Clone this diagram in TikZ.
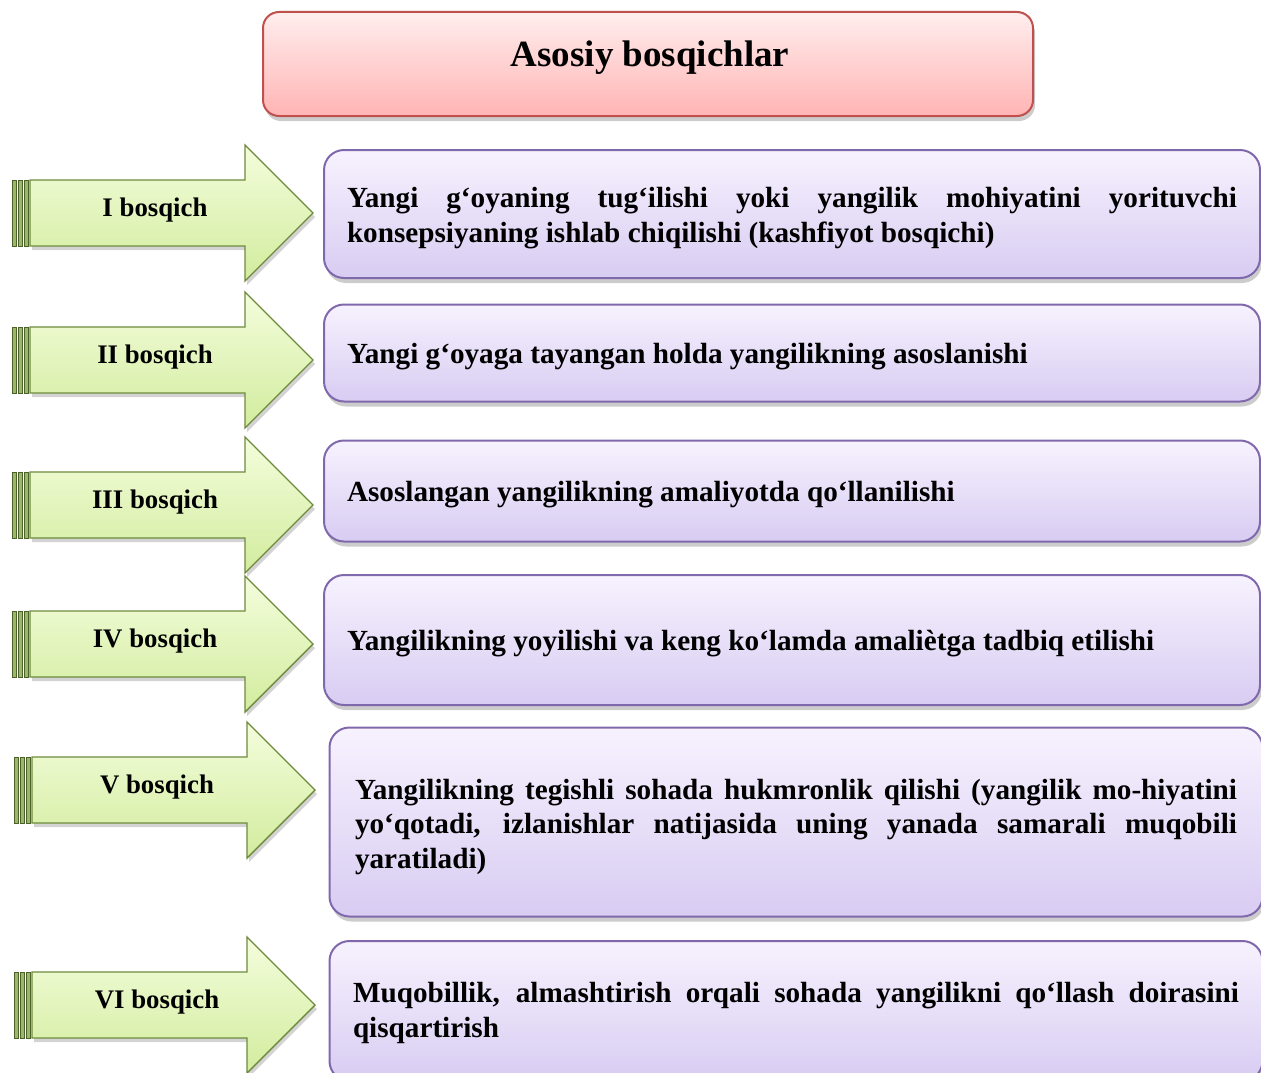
\documentclass[tikz,border=0pt]{standalone}
\usepackage{fontspec}
\setmainfont{Liberation Serif}
\usetikzlibrary{shadows}
\definecolor{boxtop}{HTML}{F7F2FE}
\definecolor{boxbot}{HTML}{D8CCF2}
\definecolor{boxborder}{HTML}{8068AC}
\definecolor{grtop}{HTML}{F4FDDC}
\definecolor{grbot}{HTML}{D2EC9E}
\definecolor{grborder}{HTML}{6E8B3D}
\definecolor{ttop}{HTML}{FFEEEE}
\definecolor{tbot}{HTML}{FFB4B4}
\definecolor{tborder}{HTML}{C0504D}
\tikzset{
  x=1pt, y=-1pt,
  stagebox/.style={rounded corners=20pt, draw=boxborder, line width=2pt,
    top color=boxtop, bottom color=boxbot,
    drop shadow={shadow xshift=2pt, shadow yshift=-5pt, opacity=0.4},
    minimum width=936pt, inner sep=0pt},
  boxtext/.style={text width=890pt, align=justify, inner sep=0pt,
    font=\fontsize{29.2}{34.5}\selectfont\bfseries},
  titlebox/.style={rounded corners=16pt, draw=tborder, line width=2pt,
    top color=ttop, bottom color=tbot,
    drop shadow={shadow xshift=2pt, shadow yshift=-5pt, opacity=0.4},
    minimum width=770pt, minimum height=104pt, inner sep=0pt},
  arrowshape/.style={draw=grborder, line width=1.4pt, top color=grtop, bottom color=grbot,
    line join=miter, drop shadow={shadow xshift=2pt, shadow yshift=-4pt, opacity=0.35}},
  arrowbar/.style={draw=grborder!70!black, line width=1pt, fill=grbot!45!grborder},
  arrowlabel/.style={font=\fontsize{26.8}{30}\selectfont\bfseries, inner sep=0pt},
  titletext/.style={font=\fontsize{37}{42}\selectfont\bfseries, inner sep=0pt}
}
\newcommand\stagearrow[4]{%
  \begin{scope}[shift={(#2,#3)}]
    \foreach \bx in {12,18,24}{\draw[arrowbar] (\bx,-33) rectangle ++(4,66);}
    \draw[arrowshape] (30,-33) -- (245,-33) -- (245,-68) -- (313,0) -- (245,68) -- (245,33) -- (30,33) -- cycle;
    \node[arrowlabel] (#1) at (155,-3) {#4};
  \end{scope}}
\begin{document}
\begin{tikzpicture}
\useasboundingbox (0,0) rectangle (1261,1073);

\node[titlebox] (title) at (648,64) {};
\node[titletext] (titletxt) at (650,58) {Asosiy bosqichlar};

\stagearrow{a1}{0}{213}{I bosqich}
\stagearrow{a2}{0}{360}{II bosqich}
\stagearrow{a3}{0}{505}{III bosqich}
\stagearrow{a4}{0}{644}{IV bosqich}
\stagearrow{a5}{2}{790}{V bosqich}
\stagearrow{a6}{2}{1005}{VI bosqich}

\node[stagebox, minimum height=128pt] (b1) at (792,214) {};
\node[boxtext] (t1) at ([yshift=-4pt]b1.center)
  {Yangi g‘oyaning tug‘ilishi yoki yangilik mohiyatini yorituvchi\linebreak konsepsiyaning ishlab chiqilishi (kashfiyot bosqichi)};
\node[stagebox, minimum height=97pt] (b2) at (792,353) {};
\node[boxtext] (t2) at ([yshift=-4pt]b2.center)
  {Yangi g‘oyaga tayangan holda yangilikning asoslanishi};
\node[stagebox, minimum height=101pt] (b3) at (792,491) {};
\node[boxtext] (t3) at ([yshift=-4pt]b3.center)
  {Asoslangan yangilikning amaliyotda qo‘llanilishi};
\node[stagebox, minimum height=130pt] (b4) at (792,640) {};
\node[boxtext] (t4) at ([yshift=-4pt]b4.center)
  {Yangilikning yoyilishi va keng ko‘lamda amaliètga tadbiq etilishi};
\node[stagebox, minimum height=189pt, minimum width=933pt] (b5) at (796,822) {};
\node[boxtext, text width=882pt] (t5) at ([yshift=-5pt]b5.center)
  {Yangilikning tegishli sohada hukmronlik qilishi (yangilik mo-hiyatini\linebreak yo‘qotadi, izlanishlar natijasida uning yanada samarali muqobili\linebreak yaratiladi)};
\node[stagebox, minimum height=140pt, minimum width=933pt] (b6) at (796,1011) {};
\node[boxtext, text width=886pt] (t6) at ([yshift=-2pt]b6.center)
  {Muqobillik, almashtirish orqali sohada yangilikni qo‘llash doirasini\linebreak qisqartirish};
\end{tikzpicture}
\end{document}
